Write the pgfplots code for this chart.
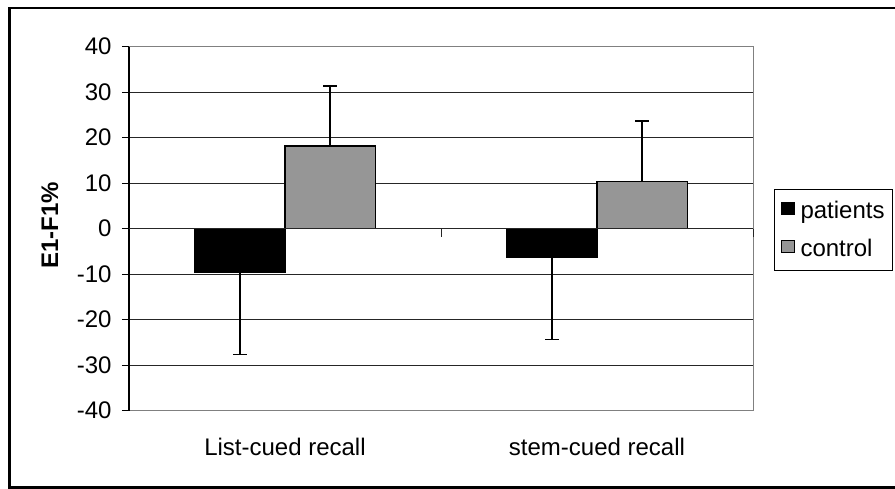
\documentclass[border=0pt]{standalone}
\usepackage{fontspec}
\setmainfont{Liberation Sans}
\usepackage{pgfplots}
\pgfplotsset{compat=1.18}
\definecolor{ctrl}{RGB}{150,150,150}
\definecolor{bord}{RGB}{128,128,128}
\newcommand{\bigf}{\fontsize{24bp}{28bp}\selectfont}
\begin{document}
\begin{tikzpicture}
\path[use as bounding box] (0bp,0bp) rectangle (895bp,489bp);
\clip (0bp,0bp) rectangle (895bp,489bp);
\draw[line width=2.5bp] (9.7bp,1.5bp) rectangle (920bp,481bp);
\begin{axis}[
  at={(129bp,78.3bp)}, anchor=south west,
  scale only axis, width=624bp, height=364bp,
  xmin=-0.5, xmax=1.5, ymin=-40, ymax=40,
  clip=false,
  ytick={-40,-30,...,40},
  xtick={0,1}, xticklabels={List-cued recall, stem-cued recall},
  /pgf/number format/assume math mode=true,
  tick label style={font=\bigf},
  xticklabel style={yshift=-17bp},
  yticklabel style={xshift=-7bp},
  ytick pos=left, tick align=outside, major tick length=7bp,
  y tick style={black, line width=1bp},
  x tick style={draw=none},
  axis line style={draw=none},
  ymajorgrids, grid style={black!85, line width=1bp},
  ylabel={E1-F1\%},
  ylabel style={font=\bfseries\bigf, at={(axis description cs:-0.127,0.51)}, anchor=center},
  bar width=0.29,
  legend style={at={(axis description cs:1.0337,0.609)}, anchor=north west, draw=black, line width=1bp, font=\bigf, inner xsep=6bp, inner ysep=10bp, row sep=15bp,
    /tikz/every odd column/.append style={column sep=4bp}},
  legend cell align=left,
]
\addplot[ybar, bar shift=0, fill=black, draw=black, line width=1.3bp,
  legend image code/.code={\draw[fill=black,draw=black,line width=1bp] (0bp,-4bp) rectangle (13bp,8bp);},
  error bars/.cd, y dir=minus, y explicit,
  error bar style={line width=1.5bp, black},
  error mark options={rotate=90, mark size=7bp, line width=1.5bp, black}]
  coordinates {(-0.145,-9.6) +- (0,18.0) (0.855,-6.3) +- (0,18.1)};
\addlegendentry{patients\hspace{20bp}}
\addplot[ybar, bar shift=0, fill=ctrl, draw=black, line width=1.3bp,
  legend image code/.code={\draw[fill=ctrl,draw=black,line width=1bp] (0bp,-4bp) rectangle (13bp,8bp);},
  error bars/.cd, y dir=plus, y explicit,
  error bar style={line width=1.5bp, black},
  error mark options={rotate=90, mark size=7bp, line width=1.5bp, black}]
  coordinates {(0.145,18.2) +- (0,13.2) (1.145,10.3) +- (0,13.4)};
\addlegendentry{control}
\draw[bord, line width=1bp] (rel axis cs:0,0) -- (rel axis cs:1,0) -- (rel axis cs:1,1) -- (rel axis cs:0,1);
\draw[black, line width=1.2bp] (rel axis cs:0,0) -- (rel axis cs:0,1);
\draw[black!85, line width=1bp] (axis cs:-0.5,0) -- (axis cs:1.5,0);
\draw[black!85, line width=1bp] (axis cs:0.5,0) -- ++(0bp,-8bp);
\draw[black!85, line width=1bp] (axis cs:1.5,0) -- ++(0bp,-8bp);
\end{axis}
\end{tikzpicture}
\end{document}
